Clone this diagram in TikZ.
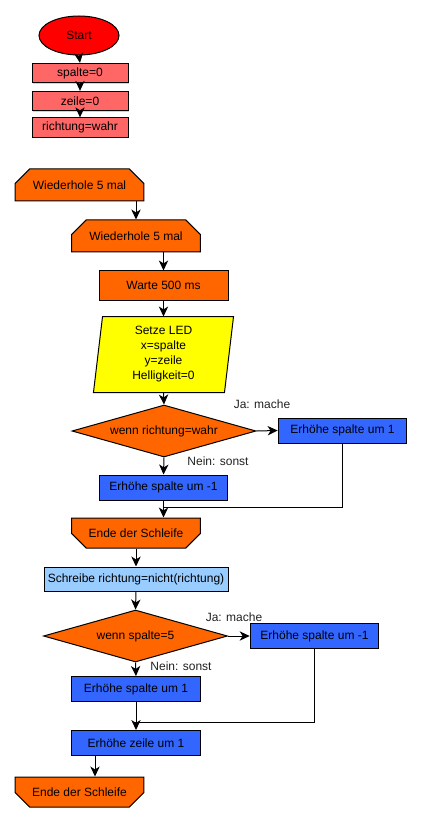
\documentclass[tikz,border=0pt]{standalone}
\usepackage{fontspec}
\setmainfont{Liberation Sans}
\usetikzlibrary{shapes.geometric,shapes.misc,arrows.meta,backgrounds,shadows}
\definecolor{cstart}{HTML}{FF0000}
\definecolor{cinit}{HTML}{FF6666}
\definecolor{corange}{HTML}{FF6600}
\definecolor{cyellow}{HTML}{FFFF00}
\definecolor{cblue}{HTML}{3366FF}
\definecolor{clight}{HTML}{99CCFF}
\definecolor{clabel}{HTML}{222222}
\tikzset{
  base/.style={draw=black, line width=0.75pt, font=\fontsize{9pt}{11.25pt}\selectfont, inner sep=0pt, align=center, text=black},
  initbox/.style={base, rectangle, fill=cinit, minimum width=72pt, minimum height=14.5pt,
     drop shadow={shadow xshift=1pt, shadow yshift=-1pt, opacity=0.35, fill=gray}},
  startshape/.style={base, ellipse, fill=cstart, minimum width=60pt, minimum height=29.25pt},
  loopbox/.style={base, chamfered rectangle, chamfered rectangle corners={north west,north east},
     chamfered rectangle xsep=7.5pt, chamfered rectangle ysep=7.5pt, fill=corange, minimum width=96.5pt, minimum height=24pt},
  endbox/.style={base, chamfered rectangle, chamfered rectangle corners={south west,south east},
     chamfered rectangle xsep=7.5pt, chamfered rectangle ysep=7.5pt, fill=corange, minimum width=96.5pt, minimum height=22.5pt},
  orangebox/.style={base, rectangle, fill=corange, minimum width=96.75pt, minimum height=21.75pt},
  bluebox/.style={base, rectangle, fill=cblue, minimum width=96.5pt, minimum height=18.75pt},
  lightbox/.style={base, rectangle, fill=clight, minimum width=138pt, minimum height=18pt},
  decision/.style={base, diamond, fill=corange, shape aspect=3.5, minimum width=138pt, minimum height=39pt},
  lbl/.style={font=\fontsize{9pt}{10.5pt}\selectfont, text=clabel, inner sep=0pt},
  arr/.style={line width=0.75pt, -{Stealth[length=7.5pt,width=7pt,inset=2.2pt]}},
  ln/.style={line width=0.75pt},
}
\begin{document}
\begin{tikzpicture}[x=0.75pt,y=-0.75pt]
\useasboundingbox (0,0) rectangle (423,823);

\node[startshape] (start) at (79,35.5) {Start};
\node[initbox] (s0) at (80,73) {spalte=0};
\node[initbox] (z0) at (80,101) {zeile=0};
\node[initbox] (rw) at (80,127.5) {richtung=wahr};

\node[loopbox] (w1) at (79.5,185) {Wiederhole 5 mal};
\node[loopbox] (w2) at (136,236) {Wiederhole 5 mal};
\node[orangebox] (warte) at (163.5,285.5) {Warte 500 ms};
\node[base, draw=none, minimum width=97.5pt, minimum height=56.25pt] (led) at (163.5,354.5)
  {Setze LED\\x=spalte\\y=zeile\\Helligkeit=0};
\begin{scope}[on background layer]
  \draw[line width=0.75pt, fill=cyellow]
    ([xshift=3.4pt]led.north west) -- ([xshift=3.4pt]led.north east)
    -- ([xshift=-3.4pt]led.south east) -- ([xshift=-3.4pt]led.south west) -- cycle;
\end{scope}
\node[decision] (d1) at (164,431) {wenn richtung=wahr};
\node[bluebox] (rb1) at (342.5,430.5) {Erhöhe spalte um 1};
\node[bluebox] (lb1) at (163.5,487.5) {Erhöhe spalte um -1};
\node[endbox] (e1) at (136,533) {Ende der Schleife};
\node[lightbox] (sch) at (136,579) {Schreibe richtung=nicht(richtung)};
\node[decision] (d2) at (135.5,636) {wenn spalte=5};
\node[bluebox] (rb2) at (314.5,636) {Erhöhe spalte um -1};
\node[bluebox] (lb2) at (136,689) {Erhöhe spalte um 1};
\node[bluebox] (zl) at (136,743) {Erhöhe zeile um 1};
\node[endbox] (e2) at (79.5,792) {Ende der Schleife};

\node[lbl] (ja1) at (262,404) {Ja: mache};
\node[lbl] (nein1) at (218,461) {Nein: sonst};
\node[lbl] (ja2) at (234,617) {Ja: mache};
\node[lbl] (nein2) at (181,666) {Nein: sonst};

\coordinate (j1) at (164,507);
\coordinate (j2) at (135,722);
\coordinate (zx) at (95,755);

\draw[arr] (start.south) -- (s0.north);
\draw[arr] (s0.south) -- (z0.north);
\draw[arr] (z0.south) -- (rw.north);
\draw[arr] (w2.north |- w1.south) -- (w2.north);
\draw[arr] (warte.north |- w2.south) -- (warte.north);
\draw[arr] (warte.south) -- (led.north);
\draw[arr] (led.south) -- (d1.north);
\draw[arr] (d1.east) -- (rb1.west);
\draw[arr] (d1.south) -- (lb1.north);
\draw[ln] (rb1.south) |- (j1);
\draw[arr] (lb1.south) -- (lb1.south |- e1.north);
\draw[arr] (sch.north |- e1.south) -- (sch.north);
\draw[arr] (sch.south) -- (d2.north);
\draw[arr] (d2.east) -- (rb2.west);
\draw[arr] (d2.south) -- (lb2.north);
\draw[ln] (rb2.south) |- (j2);
\draw[arr] (lb2.south) -- (zl.north);
\draw[arr] (zx) -- (zx |- e2.north);
\end{tikzpicture}
\end{document}
